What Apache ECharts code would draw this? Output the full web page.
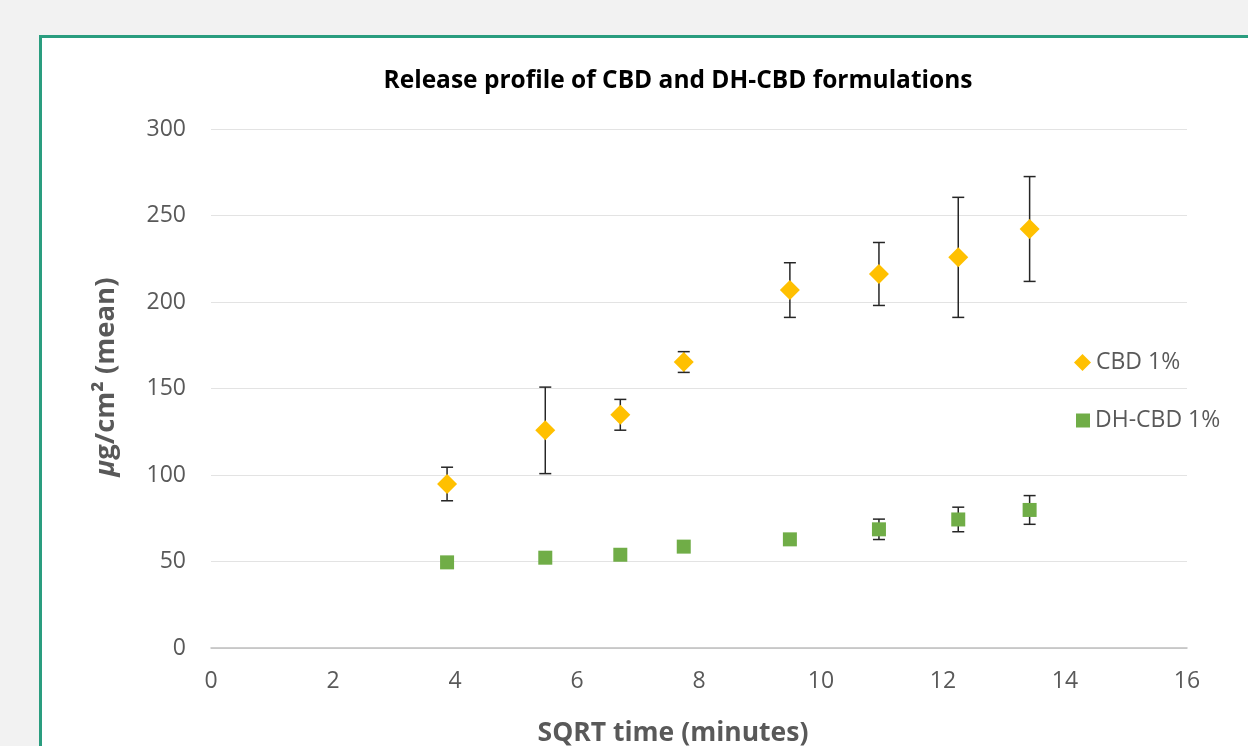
<!DOCTYPE html>
<html>
<head>
<meta charset="utf-8">
<script src="https://cdn.jsdelivr.net/npm/echarts@6/dist/echarts.min.js"></script>
<style>
  html, body { margin:0; padding:0; width:1248px; height:746px; overflow:hidden; background:#f2f2f2; }
  #panel { position:absolute; left:39px; top:35px; width:1300px; height:800px; background:#ffffff; border:3px solid #2a9d7f; box-sizing:border-box; }
  #chart { position:absolute; left:0; top:0; width:1248px; height:746px; }
</style>
</head>
<body>
<div id="panel"></div>
<div id="chart"></div>
<script>
// ---- data ----
const sqrtTime = [3.87, 5.48, 6.71, 7.75, 9.49, 10.95, 12.25, 13.42];
const cbdMean = [94.8, 125.8, 134.8, 165.3, 206.9, 216.2, 225.8, 242.2];
const cbdErr  = [9.7, 25.0, 8.9, 6.0, 15.8, 18.2, 34.7, 30.3];
const dhMean  = [49.5, 52.2, 53.9, 58.6, 62.8, 68.6, 74.3, 79.8];
const dhErr   = [1.0, 1.5, 1.5, 2.0, 2.5, 5.9, 7.1, 8.3];
const yTicks  = [0, 50, 100, 150, 200, 250, 300];
const xTicks  = [0, 2, 4, 6, 8, 10, 12, 14, 16];
const seriesNames = ['CBD 1%', 'DH-CBD 1%'];

const FONT = '"Open Sans", "Noto Sans", sans-serif';
const GREY = '#595959';

function pairs(xs, ys) { return xs.map((x, i) => [x, ys[i]]); }
function errData(xs, ys, es) { return xs.map((x, i) => [x, ys[i] - es[i], ys[i] + es[i]]); }

function errRender(params, api) {
  const x = api.value(0);
  const lo = api.coord([x, api.value(1)]);
  const hi = api.coord([x, api.value(2)]);
  const cap = 6;
  const style = { stroke: '#262626', lineWidth: 1.5 };
  return {
    type: 'group',
    children: [
      { type: 'line', shape: { x1: lo[0], y1: lo[1], x2: hi[0], y2: hi[1] }, style },
      { type: 'line', shape: { x1: lo[0] - cap, y1: lo[1], x2: lo[0] + cap, y2: lo[1] }, style },
      { type: 'line', shape: { x1: hi[0] - cap, y1: hi[1], x2: hi[0] + cap, y2: hi[1] }, style }
    ]
  };
}

const chart = echarts.init(document.getElementById('chart'), null, { renderer: 'canvas' });
chart.setOption({
  backgroundColor: 'transparent',
  animation: false,
  textStyle: { fontFamily: FONT },
  title: {
    text: 'Release profile of CBD and DH-CBD formulations',
    left: 673, top: 64, textAlign: 'center',
    textStyle: { fontFamily: FONT, fontWeight: 'bold', fontSize: 24.5, color: '#000000' }
  },
  grid: { left: 211, right: 61, top: 129, bottom: 98, containLabel: false },
  xAxis: {
    type: 'value', min: xTicks[0], max: xTicks[xTicks.length - 1], interval: 2,
    axisLine: { show: true, lineStyle: { color: '#bfbfbf', width: 1.5 } },
    axisTick: { show: false },
    splitLine: { show: false },
    axisLabel: { color: GREY, fontSize: 23, fontFamily: FONT, margin: 22 }
  },
  yAxis: {
    type: 'value', min: yTicks[0], max: yTicks[yTicks.length - 1], interval: 50,
    axisLine: { show: false },
    axisTick: { show: false },
    splitLine: { show: true, lineStyle: { color: '#e3e3e3', width: 1 } },
    axisLabel: { color: GREY, fontSize: 23, fontFamily: FONT, margin: 25 }
  },
  legend: [
    { data: [{ name: seriesNames[0], icon: 'diamond' }], left: 1074, top: 351, padding: 0, orient: 'vertical',
      itemWidth: 17, itemHeight: 17, itemGap: 5,
      textStyle: { color: GREY, fontSize: 23, fontFamily: FONT } },
    { data: [{ name: seriesNames[1], icon: 'rect' }], left: 1076, top: 409, padding: 0, orient: 'vertical',
      itemWidth: 14, itemHeight: 14, itemGap: 5,
      textStyle: { color: GREY, fontSize: 23, fontFamily: FONT } }
  ],
  graphic: [
    { type: 'text', x: 673, y: 733, style: { text: 'SQRT time (minutes)', align: 'center', verticalAlign: 'middle',
      font: 'bold 26.5px ' + FONT, fill: GREY } },
    { type: 'text', x: 106, y: 377, rotation: Math.PI / 2, style: {
      text: '{i|μ}g/cm² (mean)', align: 'center', verticalAlign: 'middle',
      font: 'bold 27.5px ' + FONT, fill: GREY,
      rich: { i: { fontStyle: 'italic', fontWeight: 'bold', fontSize: 27.5, fontFamily: FONT, fill: GREY } } } }
  ],
  series: [
    { name: 'cbdErr', type: 'custom', renderItem: errRender, data: errData(sqrtTime, cbdMean, cbdErr), z: 1, silent: true },
    { name: 'dhErr', type: 'custom', renderItem: errRender, data: errData(sqrtTime, dhMean, dhErr), z: 1, silent: true },
    { name: seriesNames[0], type: 'scatter', symbol: 'diamond', symbolSize: 20, z: 3,
      itemStyle: { color: '#ffc000', opacity: 1 }, data: pairs(sqrtTime, cbdMean) },
    { name: seriesNames[1], type: 'scatter', symbol: 'rect', symbolSize: 14, z: 3,
      itemStyle: { color: '#70ad47', opacity: 1 }, data: pairs(sqrtTime, dhMean) }
  ]
});
</script>
</body>
</html>
